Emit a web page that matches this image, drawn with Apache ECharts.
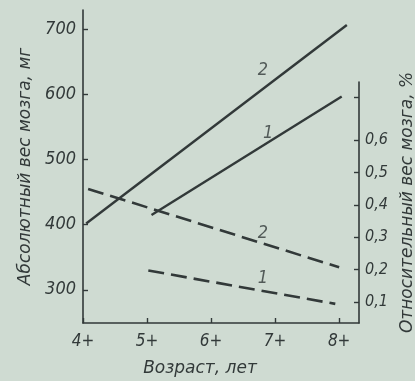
<!DOCTYPE html>
<html>
<head>
<meta charset="utf-8">
<script src="https://cdn.jsdelivr.net/npm/echarts@6/dist/echarts.min.js"></script>
<style>
  html, body { margin: 0; padding: 0; background: #cfdbd2; }
  #chart { width: 415px; height: 381px; }
</style>
</head>
<body>
<div id="chart"></div>
<script>
// Brain weight by age: absolute weight (solid, left axis, mg)
// and relative weight (dashed, right axis, %), two groups each.
const ageTicks = [4, 5, 6, 7, 8];
const absTicks = [300, 400, 500, 600, 700];
const relTicks = [0.1, 0.2, 0.3, 0.4, 0.5, 0.6];
const relTopTick = [0.733];

const absCurve1 = [[5.07, 415], [8.04, 597]];
const absCurve2 = [[4.05, 402], [8.12, 707]];
const relCurve1 = [[5.02, 0.197], [7.94, 0.094]];
const relCurve2 = [[4.08, 0.449], [8.0, 0.207]];

// curve numbers written next to the lines
const absTags = [[6.81, 637, '2'], [6.89, 541, '1']];
const relTags = [[6.81, 0.313, '2'], [6.81, 0.174, '1']];

const ink = '#323939';
const font = "'DejaVu Sans Condensed', 'DejaVu Sans', sans-serif";
const wideFont = "'DejaVu Sans', sans-serif";
const txt = { color: ink, fontFamily: font, fontStyle: 'italic', fontSize: 17 };
const nameTxt = { color: ink, fontFamily: wideFont, fontStyle: 'italic', fontSize: 17 };

const chart = echarts.init(document.getElementById('chart'), null, { renderer: 'canvas' });

const axisLine = { show: true, lineStyle: { color: ink, width: 1.6 } };
const tick = { show: true, inside: true, length: 5, lineStyle: { color: ink, width: 1.4 } };

chart.setOption({
  backgroundColor: '#cfdbd2',
  animation: false,
  grid: [
    { left: 83, right: 56, top: 10, bottom: 58, outerBoundsMode: 'none', containLabel: false },
    { left: 83, right: 56, top: 82, bottom: 58, outerBoundsMode: 'none', containLabel: false }
  ],
  xAxis: [
    {
      gridIndex: 0, type: 'value', min: 4, max: 8.31,
      name: 'Возраст, лет', nameLocation: 'middle', nameGap: 37,
      nameTextStyle: Object.assign({}, nameTxt, { padding: [0, 42, 0, 0] }),
      axisLine: axisLine,
      axisTick: Object.assign({}, tick, { customValues: ageTicks }),
      axisLabel: Object.assign({}, txt, { margin: 10, customValues: ageTicks,
        formatter: v => v + '+' }),
      splitLine: { show: false }
    },
    {
      gridIndex: 1, type: 'value', min: 4, max: 8.31, show: false
    }
  ],
  yAxis: [
    {
      gridIndex: 0, type: 'value', min: 249, max: 730, position: 'left',
      name: 'Абсолютный вес мозга, мг', nameLocation: 'middle', nameGap: 48, nameRotate: 90,
      nameTextStyle: nameTxt,
      axisLine: axisLine,
      axisTick: Object.assign({}, tick, { customValues: absTicks }),
      axisLabel: Object.assign({}, txt, { fontSize: 18, margin: 7, customValues: absTicks }),
      splitLine: { show: false }
    },
    {
      gridIndex: 1, type: 'value', min: 0.035, max: 0.779, position: 'right',
      name: 'Относительный вес мозга, %', nameLocation: 'middle', nameGap: 31, nameRotate: 90,
      nameTextStyle: nameTxt,
      axisLine: axisLine,
      axisTick: Object.assign({}, tick, { customValues: relTicks.concat(relTopTick) }),
      axisLabel: Object.assign({}, txt, { fontSize: 16, margin: 6, customValues: relTicks,
        formatter: v => v.toFixed(1).replace('.', ',') }),
      splitLine: { show: false }
    }
  ],
  series: [
    { type: 'line', xAxisIndex: 0, yAxisIndex: 0, data: absCurve1, symbol: 'none',
      lineStyle: { color: ink, width: 2.4 } },
    { type: 'line', xAxisIndex: 0, yAxisIndex: 0, data: absCurve2, symbol: 'none',
      lineStyle: { color: ink, width: 2.4 } },
    { type: 'line', xAxisIndex: 1, yAxisIndex: 1, data: relCurve1, symbol: 'none',
      lineStyle: { color: ink, width: 2.6, type: [16, 7] } },
    { type: 'line', xAxisIndex: 1, yAxisIndex: 1, data: relCurve2, symbol: 'none',
      lineStyle: { color: ink, width: 2.6, type: [16, 7] } },
    { type: 'scatter', xAxisIndex: 0, yAxisIndex: 0, data: absTags, symbolSize: 0,
      label: Object.assign({ show: true, position: 'inside', formatter: p => p.data[2] },
        txt, { fontSize: 18 }) },
    { type: 'scatter', xAxisIndex: 1, yAxisIndex: 1, data: relTags, symbolSize: 0,
      label: Object.assign({ show: true, position: 'inside', formatter: p => p.data[2] },
        txt, { fontSize: 18 }) }
  ]
});
</script>
</body>
</html>
